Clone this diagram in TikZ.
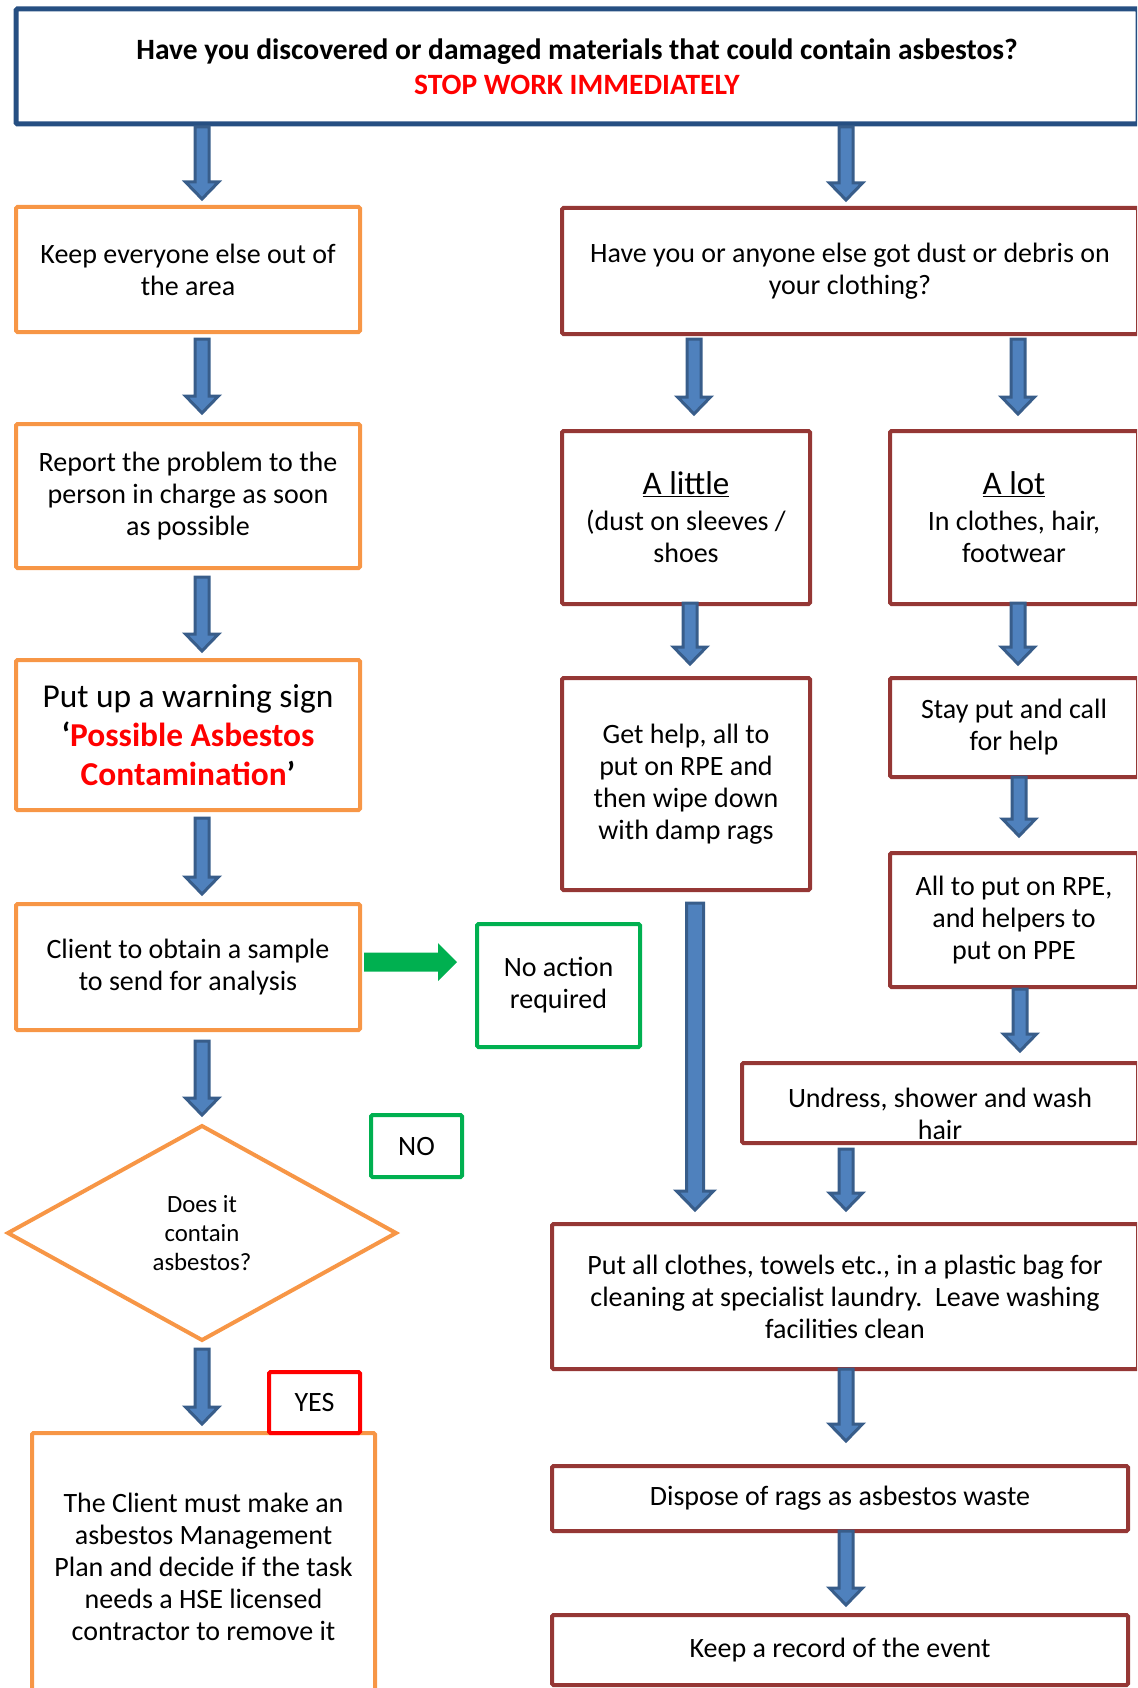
\documentclass[tikz,border=0pt]{standalone}
\usepackage{fontspec}
\setmainfont{Carlito}
\usetikzlibrary{calc,shapes.geometric}
\definecolor{navy}{HTML}{264F82}
\definecolor{orng}{HTML}{F79646}
\definecolor{dred}{HTML}{953735}
\definecolor{grn}{HTML}{00B050}
\definecolor{arrfill}{HTML}{4F81BD}
\definecolor{arrline}{HTML}{385D8A}
\definecolor{redtxt}{HTML}{FF0000}
\newcommand\varrow[3][n]{%
  \path #2 coordinate (vs);
  \path #3 coordinate (ve0);
  \coordinate (ve) at (vs |- ve0);
  \ifx b#1%
    \draw[barrow] ($(vs)+(-8.5,0)$) -- ($(ve)+(-8.5,-19)$) -- ($(ve)+(-18.5,-19)$) -- (ve)
      -- ($(ve)+(18.5,-19)$) -- ($(ve)+(8.5,-19)$) -- ($(vs)+(8.5,0)$) -- cycle;
  \else
    \draw[barrow] ($(vs)+(-7,0)$) -- ($(ve)+(-7,-17)$) -- ($(ve)+(-16.5,-17)$) -- (ve)
      -- ($(ve)+(16.5,-17)$) -- ($(ve)+(7,-17)$) -- ($(vs)+(7,0)$) -- cycle;
  \fi
}
\begin{document}
\begin{tikzpicture}[x=1pt,y=-1pt,
  box/.style={draw, line width=4pt, rounded corners=1.5pt, inner sep=0pt, outer sep=0pt,
    align=center, font=\fontsize{28}{32}\selectfont},
  obox/.style={box, draw=orng},
  rbox/.style={box, draw=dred},
  gbox/.style={box, draw=grn},
  barrow/.style={fill=arrfill, draw=arrline, line width=3pt, line join=miter},
]
\useasboundingbox (0,0) rectangle (1137,1688);
\clip (0,0) rectangle (1137,1688);

% top box
\node[box, draw=navy, line width=5pt, minimum width=1122pt, minimum height=115pt,
  font=\fontsize{29.5}{35}\selectfont\bfseries] (top) at (577,66.5)
  {Have you discovered or damaged materials that could contain asbestos?\\\textcolor{redtxt}{STOP WORK IMMEDIATELY}};

% left column
\node[obox, minimum width=344pt, minimum height=125pt] (keep) at (188,269.5)
  {Keep everyone else out of\\the area};
\node[obox, minimum width=344pt, minimum height=144pt] (report) at (188,496)
  {Report the problem to the\\person in charge as soon\\as possible};
\node[obox, minimum width=344pt, minimum height=150pt, font=\fontsize{33.4}{39}\selectfont] (warn) at (188,735)
  {Put up a warning sign\\\textbf{‘\textcolor{redtxt}{Possible Asbestos}}\\\textbf{\textcolor{redtxt}{Contamination}’}};
\node[obox, minimum width=344pt, minimum height=126pt] (client) at (188,967)
  {Client to obtain a sample\\to send for analysis};
\node[draw=orng, line width=4pt, diamond, minimum width=388pt, minimum height=214pt, inner sep=0pt,
  outer sep=0pt, align=center, font=\fontsize{24.8}{29}\selectfont] (diamond) at (202,1233)
  {Does it\\contain\\asbestos?};
\node[obox, minimum width=343pt, minimum height=268pt] (must) at (203.5,1567)
  {The Client must make an\\asbestos Management\\Plan and decide if the task\\needs a HSE licensed\\contractor to remove it};

\node[gbox, minimum width=163pt, minimum height=123pt] (noact) at (558.5,985.5) {No action\\required};
\node[gbox, minimum width=91pt, minimum height=62pt] (nobox) at (416.5,1146) {NO};
\node[box, draw=redtxt, minimum width=91pt, minimum height=61pt] (yesbox) at (314.5,1402.5) {YES};

% right column
\node[rbox, minimum width=576pt, minimum height=126pt] (have) at (850,271)
  {Have you or anyone else got dust or debris on\\your clothing?};
\node[rbox, minimum width=248pt, minimum height=173pt] (little) at (686,517.5)
  {{\fontsize{33}{39}\selectfont\underline{A little}}\\[4pt](dust on sleeves /\\shoes};
\node[rbox, minimum width=248pt, minimum height=173pt] (lot) at (1014,517.5)
  {{\fontsize{33}{39}\selectfont\underline{A lot}}\\[4pt]In clothes, hair,\\footwear};
\node[rbox, minimum width=248pt, minimum height=212pt] (gethelp) at (686,784)
  {Get help, all to\\put on RPE and\\then wipe down\\with damp rags};
\node[rbox, minimum width=248pt, minimum height=99pt] (stay) at (1014,727.5)
  {Stay put and call\\for help};
\node[rbox, minimum width=248pt, minimum height=134pt] (allput) at (1014,920)
  {All to put on RPE,\\and helpers to\\put on PPE};
\node[align=center, font=\fontsize{28}{32}\selectfont, inner sep=0pt] (undresstxt) at (940,1114)
  {Undress, shower and wash\\hair};
\node[rbox, minimum width=396pt, minimum height=80pt] (undress) at (940,1103) {};
\node[rbox, minimum width=586pt, minimum height=145pt] (putall) at (845,1296.5)
  {Put all clothes, towels etc., in a plastic bag for\\cleaning at specialist laundry.\ \ Leave washing\\facilities clean};
\node[rbox, minimum width=576pt, minimum height=65pt] (dispose) at (840,1498.5)
  {Dispose of rags as asbestos waste};
\node[rbox, minimum width=576pt, minimum height=70pt] (record) at (840,1650)
  {Keep a record of the event};

% blue arrows, left column
\varrow{($(top.south -| diamond)+(0,3)$)}{($(keep.north -| diamond)+(0,-8)$)}
\varrow{($(keep.south -| diamond)+(0,7)$)}{($(report.north -| diamond)+(0,-11)$)}
\varrow{($(report.south -| diamond)+(0,9)$)}{($(warn.north -| diamond)+(0,-9)$)}
\varrow{($(warn.south -| diamond)+(0,8)$)}{($(client.north -| diamond)+(0,-10)$)}
\varrow{($(client.south -| diamond)+(0,11)$)}{($(diamond.north)+(0,-11)$)}
\varrow{($(diamond.south)+(0,9)$)}{($(must.north -| diamond)+(0,-9)$)}
% blue arrows, right column
\varrow{($(top.south -| have)+(-4,3)$)}{($(have.north)+(0,-8)$)}
\varrow{($(have.south -| little)+(8,5)$)}{($(little.north)+(0,-17)$)}
\varrow{($(have.south -| lot)+(4,5)$)}{($(lot.north)+(0,-17)$)}
\varrow{($(little.south)+(4,-1)$)}{($(gethelp.north)+(0,-14)$)}
\varrow{($(lot.south)+(4,-1)$)}{($(stay.north)+(0,-14)$)}
\varrow{($(stay.south)+(5,0)$)}{($(allput.north)+(0,-17)$)}
\varrow{($(allput.south)+(6,2)$)}{($(undress.north)+(0,-12)$)}
\varrow[b]{($(gethelp.south)+(9,13)$)}{($(putall.north)+(0,-14)$)}
\varrow{($(undress.south -| putall)+(1,6)$)}{($(putall.north)+(0,-14)$)}
\varrow{($(putall.south)+(1,0)$)}{($(dispose.north)+(0,-25)$)}
\varrow{($(dispose.south)+(6,0)$)}{($(record.north)+(0,-10)$)}

% green arrow
\coordinate (gs) at ($(client.east)+(4,-5)$);
\coordinate (ge) at ($(noact.west |- gs)+(-20,0)$);
\fill[grn] ($(gs)+(0,-9.5)$) -- ($(ge)+(-19,-9.5)$) -- ($(ge)+(-19,-19)$) -- (ge)
  -- ($(ge)+(-19,19)$) -- ($(ge)+(-19,9.5)$) -- ($(gs)+(0,9.5)$) -- cycle;
\end{tikzpicture}
\end{document}
